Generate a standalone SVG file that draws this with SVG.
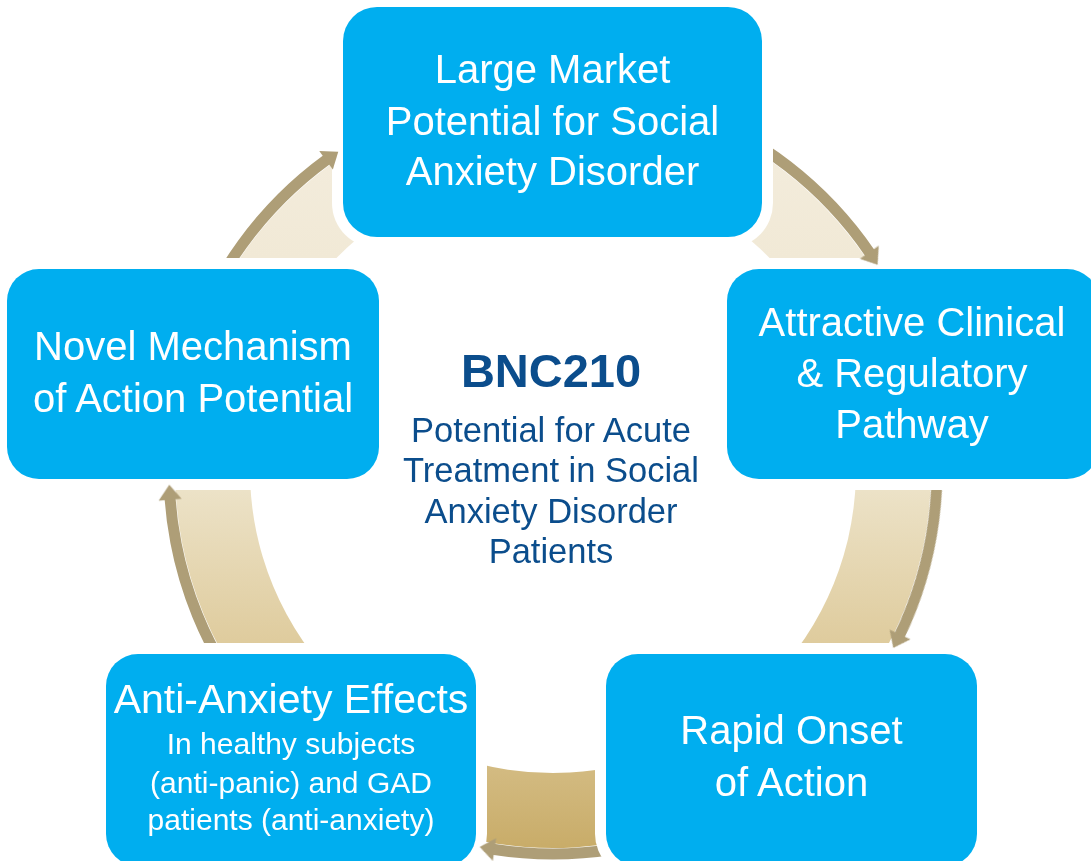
<svg xmlns="http://www.w3.org/2000/svg" xmlns:xlink="http://www.w3.org/1999/xlink" width="1091" height="861" viewBox="0 0 1091 861">
<style>
.box{fill:#00aeef}
.t{font-family:"Liberation Sans",Arial,sans-serif;fill:#ffffff;text-anchor:middle}
.t40{font-size:40px}
.c{font-family:"Liberation Sans",Arial,sans-serif;fill:#0b4d8c;text-anchor:middle}
.face{fill:url(#faceGrad)}
.strip{fill:none;stroke:#ae9e77;stroke-width:11}
.head{fill:#ae9e77}
</style>
<defs>
<linearGradient id="faceGrad" gradientUnits="userSpaceOnUse" x1="0" y1="80" x2="0" y2="860">
<stop offset="0.09" stop-color="#f3ecdc"/>
<stop offset="0.23" stop-color="#f1e9d6"/>
<stop offset="0.526" stop-color="#ece2c7"/>
<stop offset="0.718" stop-color="#dfcc9e"/>
<stop offset="0.88" stop-color="#d3bb82"/>
<stop offset="1" stop-color="#c7aa65"/>
</linearGradient>
<path id="strip" class="strip" d="M855.6 233.6 A384 384 0 0 1 936.8 456.6"/>
<polygon id="head" class="head" points="925.2,455.5 948.2,454.6 937,470"/>
<mask id="gapMask" maskUnits="userSpaceOnUse" x="0" y="0" width="1091" height="861">
<rect x="0" y="0" width="1091" height="861" fill="#fff"/>
<rect x="332" y="-4" width="441" height="252" rx="45" fill="#000"/>
<rect x="716" y="258" width="394" height="232" rx="43" fill="#000"/>
<rect x="-4" y="258" width="394" height="232" rx="43" fill="#000"/>
<rect x="595" y="643" width="393" height="234" rx="43" fill="#000"/>
<rect x="95" y="643" width="392" height="234" rx="43" fill="#000"/>
</mask>
</defs>
<rect x="0" y="0" width="1091" height="861" fill="#ffffff"/>
<g id="connectors">
<g mask="url(#gapMask)">
<path class="face" d="M680.4 114.1 A378 378 0 0 1 900.2 320.5 L831.3 350.2 A303 303 0 0 0 655.1 184.7 Z"/>
<path class="face" d="M924.8 401.8 A378 378 0 0 1 856.5 695.4 L796.2 650.6 A303 303 0 0 0 851.0 415.3 Z"/>
<path class="face" d="M722.8 807.7 A378 378 0 0 1 421.9 824.5 L447.9 754.2 A303 303 0 0 0 689.1 740.7 Z"/>
<path class="face" d="M264.3 714.0 A378 378 0 0 1 177.6 425.2 L252.1 434.1 A303 303 0 0 0 321.6 665.6 Z"/>
<path class="face" d="M194.5 350.1 A378 378 0 0 1 396.2 126.0 L427.3 194.3 A303 303 0 0 0 265.7 373.9 Z"/>
<use xlink:href="#strip" href="#strip" transform="rotate(-32.3 553 470)"/>
<use xlink:href="#strip" href="#strip" transform="rotate(27.6 553 470)"/>
<use xlink:href="#strip" href="#strip" transform="rotate(101 553 470)"/>
<use xlink:href="#strip" href="#strip" transform="rotate(177.8 553 470)"/>
<use xlink:href="#strip" href="#strip" transform="rotate(236 553 470)"/>
</g>
<use xlink:href="#head" href="#head" transform="rotate(-32.3 553 470)"/>
<use xlink:href="#head" href="#head" transform="rotate(27.6 553 470)"/>
<use xlink:href="#head" href="#head" transform="rotate(101 553 470)"/>
<use xlink:href="#head" href="#head" transform="rotate(177.8 553 470)"/>
<use xlink:href="#head" href="#head" transform="rotate(236 553 470)"/>
</g>
<g id="node-market">
<rect class="box" x="343" y="7" width="419" height="230" rx="34"/>
<text class="t t40" x="552.5" y="83">Large Market</text>
<text class="t t40" x="552.5" y="135">Potential for Social</text>
<text class="t t40" x="552.5" y="185">Anxiety Disorder</text>
</g>
<g id="node-clinical">
<rect class="box" x="727" y="269" width="372" height="210" rx="32"/>
<text class="t t40" x="912" y="336">Attractive Clinical</text>
<text class="t t40" x="912" y="387">&amp; Regulatory</text>
<text class="t t40" x="912" y="438">Pathway</text>
</g>
<g id="node-onset">
<rect class="box" x="606" y="654" width="371" height="212" rx="32"/>
<text class="t t40" x="791.5" y="744">Rapid Onset</text>
<text class="t t40" x="791.5" y="796">of Action</text>
</g>
<g id="node-antianxiety">
<rect class="box" x="106" y="654" width="370" height="212" rx="32"/>
<text class="t" x="291" y="713" font-size="41">Anti-Anxiety Effects</text>
<text class="t" x="291" y="754" font-size="30">In healthy subjects</text>
<text class="t" x="291" y="793" font-size="30">(anti-panic) and GAD</text>
<text class="t" x="291" y="830" font-size="30">patients (anti-anxiety)</text>
</g>
<g id="node-mechanism">
<rect class="box" x="7" y="269" width="372" height="210" rx="32"/>
<text class="t t40" x="193" y="360">Novel Mechanism</text>
<text class="t t40" x="193" y="412">of Action Potential</text>
</g>
<g id="center">
<text class="c" x="551" y="387" font-size="47" font-weight="bold">BNC210</text>
<text class="c" x="551" y="442" font-size="34.5">Potential for Acute</text>
<text class="c" x="551" y="482" font-size="34.5">Treatment in Social</text>
<text class="c" x="551" y="523" font-size="34.5">Anxiety Disorder</text>
<text class="c" x="551" y="563" font-size="34.5">Patients</text>
</g>
</svg>
